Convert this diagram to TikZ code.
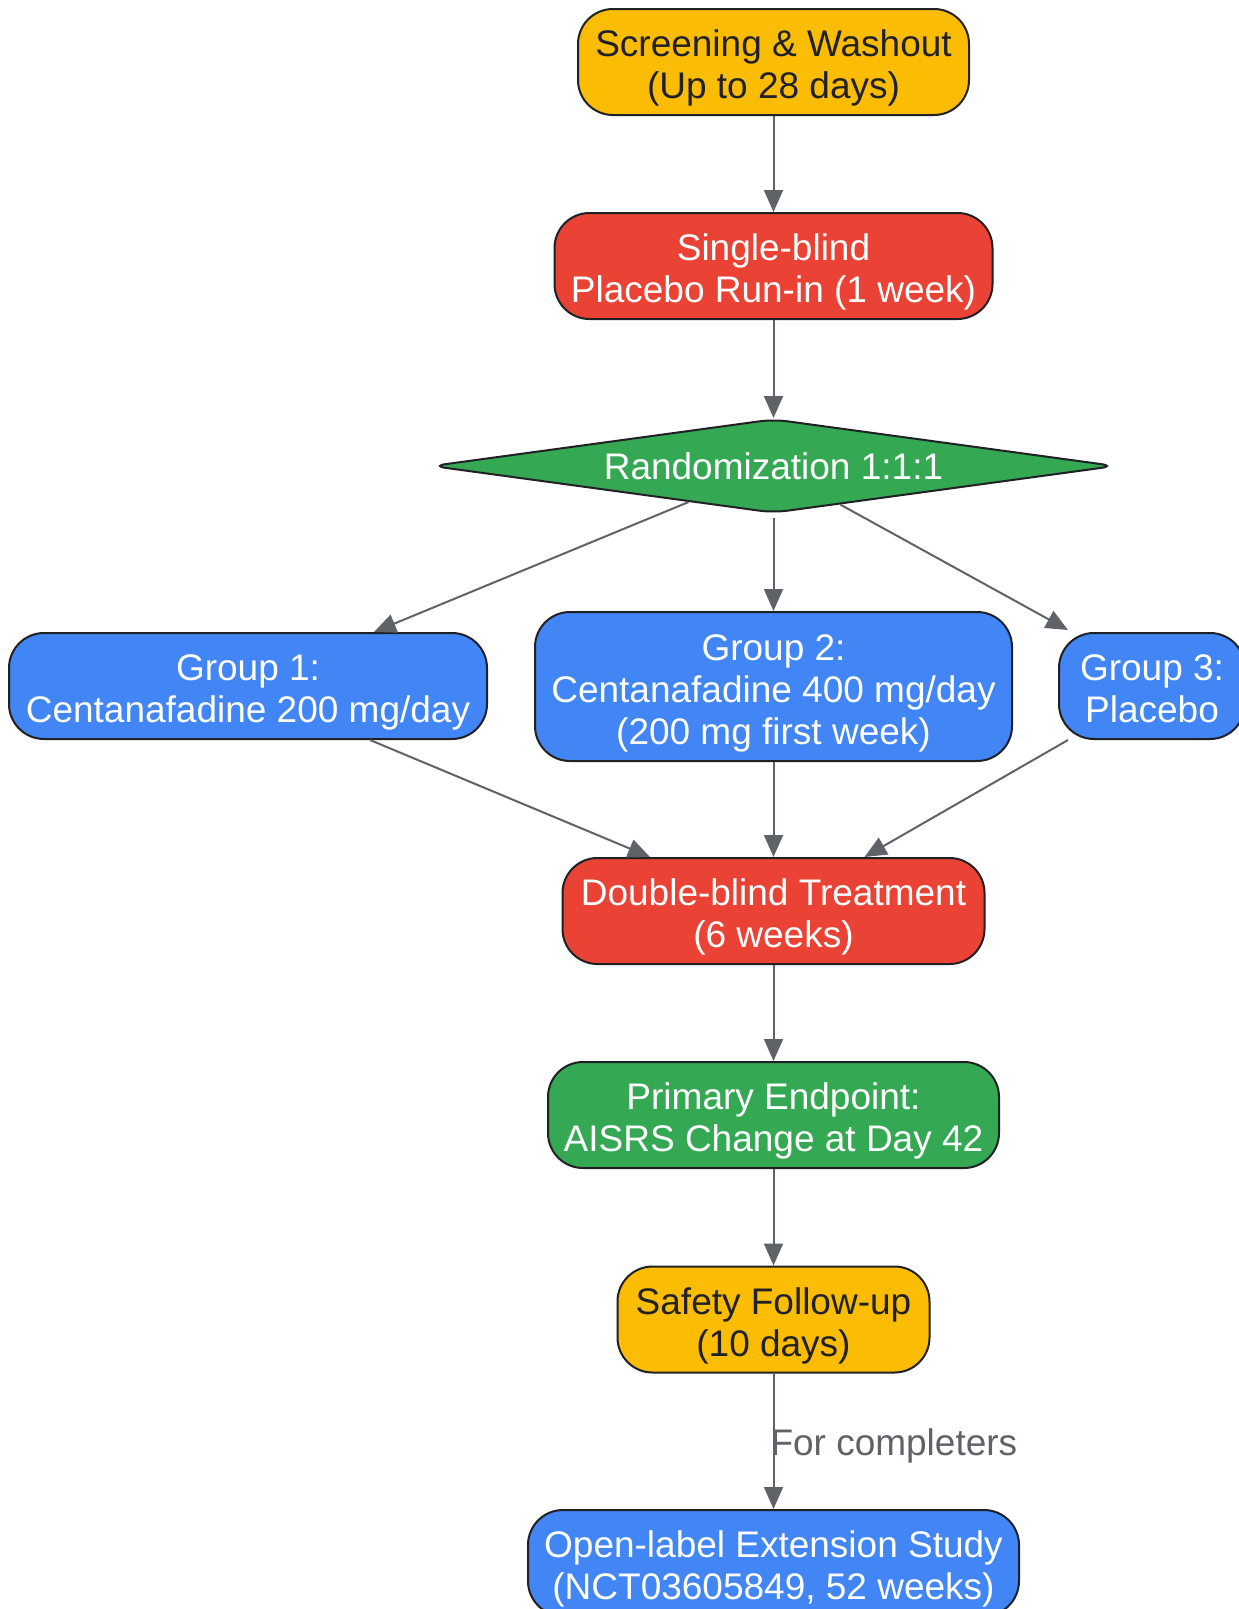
\documentclass[tikz,border=0pt]{standalone}
\usepackage{fontspec}
\setmainfont{Liberation Sans}
\usetikzlibrary{arrows.meta,shapes.geometric}
\definecolor{gyellow}{HTML}{FBBC04}
\definecolor{gred}{HTML}{EA4335}
\definecolor{ggreen}{HTML}{34A853}
\definecolor{gblue}{HTML}{4285F4}
\definecolor{darktext}{HTML}{202124}
\definecolor{edgegrey}{HTML}{5F6368}
\newcommand\topstrut{\rule{0pt}{41pt}}
\newcommand\botstrut{\rule[-10pt]{0pt}{10pt}}
\tikzset{
  box/.style={draw=darktext, line width=2pt, rounded corners=35pt, inner sep=0pt,
    align=center, font=\fontsize{37}{42}\selectfont},
  ybox/.style={box, fill=gyellow, text=darktext},
  rbox/.style={box, fill=gred, text=white},
  gbox/.style={box, fill=ggreen, text=white},
  bbox/.style={box, fill=gblue, text=white},
  arr/.style={draw=edgegrey, line width=2pt, -{Triangle[length=22pt,width=19pt]}, color=edgegrey},
  lbl/.style={text=edgegrey, font=\fontsize{37}{42}\selectfont, inner sep=0pt}
}
\begin{document}
\begin{tikzpicture}[x=1pt,y=-1pt]
\useasboundingbox (0,0) rectangle (1239,1609);
\clip (0,0) rectangle (1239,1609);
\fill[white] (0,0) rectangle (1239,1609);

\node[ybox, minimum width=391pt, minimum height=106pt] (scr) at (773.5,62) {\topstrut Screening \& Washout\\(Up to 28 days)\botstrut};
\node[rbox, minimum width=438pt, minimum height=106pt] (sb) at (773.5,266) {\topstrut Single-blind\\Placebo Run-in (1 week)\botstrut};
\node[diamond, aspect=7.3, draw=darktext, line width=2pt, fill=ggreen, text=white, rounded corners=14pt,
      inner sep=0pt, minimum width=684pt, minimum height=94pt, font=\fontsize{37}{42}\selectfont] (rand) at (773.5,466) {\raisebox{-2pt}{Randomization 1:1:1}};
\node[bbox, minimum width=478pt, minimum height=106pt] (g1) at (248,686) {\topstrut Group 1:\\Centanafadine 200 mg/day\botstrut};
\node[bbox, minimum width=477pt, minimum height=149pt] (g2) at (773.5,686.5) {\topstrut Group 2:\\Centanafadine 400 mg/day\\(200 mg first week)\botstrut};
\node[bbox, minimum width=186pt, minimum height=106pt] (g3) at (1152,686) {\topstrut Group 3:\\Placebo\botstrut};
\node[rbox, minimum width=422pt, minimum height=106pt] (db) at (773.5,911) {\topstrut Double-blind Treatment\\(6 weeks)\botstrut};
\node[gbox, minimum width=451pt, minimum height=106pt] (pe) at (773.5,1115) {\topstrut Primary Endpoint:\\AISRS Change at Day 42\botstrut};
\node[ybox, minimum width=312pt, minimum height=106pt] (sf) at (773.5,1319.5) {\topstrut Safety Follow-up\\(10 days)\botstrut};
\node[bbox, minimum width=491pt, minimum height=106pt] (ol) at (773.5,1563) {\topstrut Open-label Extension Study\\(NCT03605849, 52 weeks)\botstrut};

\draw[arr] (scr.south) -- (sb.north);
\draw[arr] (sb.south) -- (rand.north);
\draw[arr] (rand.203.5) -- ([xshift=126pt]g1.north);
\draw[arr] ([yshift=-4pt]rand.south) -- (g2.north);
\draw[arr] (rand.330.5) -- ([xshift=-84pt,yshift=2pt]g3.north);
\draw[arr] ([xshift=122pt]g1.south) -- ([xshift=-123.5pt]db.north);
\draw[arr] (g2.south) -- (db.north);
\draw[arr] ([xshift=-84pt]g3.south) -- ([xshift=91pt]db.north);
\draw[arr] (db.south) -- (pe.north);
\draw[arr] (pe.south) -- (sf.north);
\draw[arr] (sf.south) -- node[lbl, anchor=west, pos=0.51, xshift=-4pt, yshift=-3pt] (lab) {For completers} (ol.north);
\end{tikzpicture}
\end{document}
